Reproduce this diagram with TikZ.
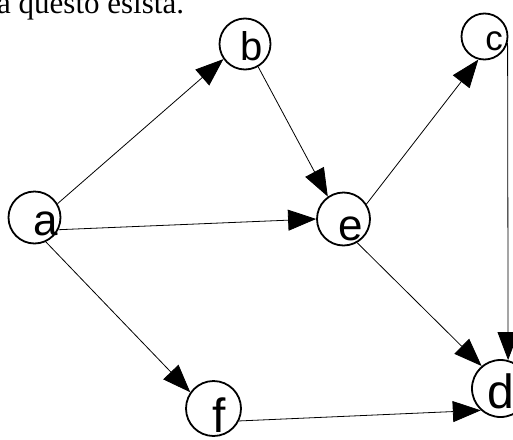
\documentclass[tikz,border=0pt]{standalone}
\usepackage{fontspec}
\setmainfont{Liberation Serif}
\newfontfamily\lblfont{Liberation Sans}
\usetikzlibrary{arrows,arrows.meta,shapes,positioning}
\tikzstyle{vertex} = [draw, circle, line width=1.8pt, minimum size=52pt,
    inner sep=0pt]
\tikzstyle{lbl} = [anchor=base, inner sep=0pt,
    font=\lblfont\fontsize{44}{44}\selectfont]
\tikzstyle{edge} = [-{Triangle[length=28pt,width=21pt]}, line width=0.8pt]

\begin{document}
\begin{tikzpicture}[x=1pt, y=-1pt]
  \useasboundingbox (0,0) rectangle (513,439);
  % Top text
  \node [anchor=base west, inner sep=0pt, font=\fontsize{31}{31}\selectfont]
    (caption) at (-3,13) {a questo esista.};
  % Place nodes
  \node [vertex] (a) at (34.5,217.5) {};
  \node [vertex, minimum size=51pt] (b) at (245,44) {};
  \node [vertex, minimum size=46pt] (c) at (484.5,36.5) {};
  \node [vertex, minimum size=53pt] (e) at (343.5,219) {};
  \node [vertex, minimum size=55pt] (f) at (213.5,408.5) {};
  \node [vertex, minimum size=57pt] (d) at (500.5,388.5) {};
  % Labels
  \node [lbl] (la) at (46,235) {a};
  \node [lbl, font=\lblfont\fontsize{40}{40}\selectfont] (lb) at (252,60) {b};
  \node [lbl, font=\lblfont\fontsize{35}{35}\selectfont] (lc) at (494,50) {c};
  \node [lbl] (le) at (351,240) {e};
  \node [lbl, font=\lblfont\fontsize{48}{48}\selectfont] (lf) at (219,432) {f};
  \node [lbl, font=\lblfont\fontsize{48}{48}\selectfont] (ld) at (501,408) {d};
  % Draw edges
  \draw [edge] (a.31) -- (b.215);
  \draw [edge] (b.-60) -- (e.125);
  \draw [edge] (a.-27) -- (e.west);
  \draw [edge] (e.33) -- (c.-105);
  \draw [edge] (c.-15) -- (d.75);
  \draw [edge] (e.-60) -- (d.130);
  \draw [edge] (a.-65) -- (f.145);
  \draw [edge] (f.-26) -- (d.-132);
\end{tikzpicture}
\end{document}
